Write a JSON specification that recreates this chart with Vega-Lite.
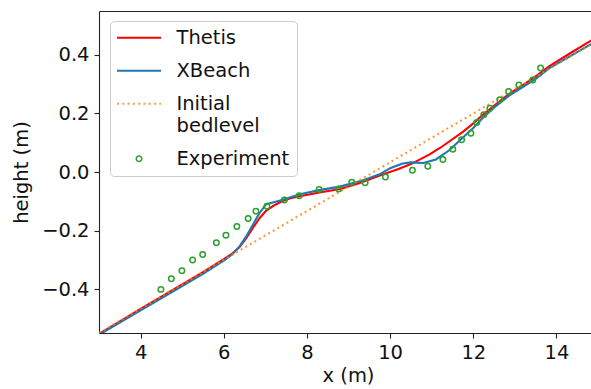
{
  "$schema": "https://vega.github.io/schema/vega-lite/v6.json",
  "width": 492,
  "height": 322,
  "autosize": {"type": "none"},
  "padding": {"left": 99, "top": 11, "right": 0, "bottom": 56},
  "background": "white",
  "config": {
    "view": {"stroke": null},
    "font": "DejaVu Sans",
    "axis": {
      "domainColor": "#222",
      "tickColor": "#222",
      "labelColor": "#111",
      "titleColor": "#111",
      "labelFont": "DejaVu Sans",
      "titleFont": "DejaVu Sans",
      "labelFontSize": 19.5,
      "titleFontSize": 19.5,
      "titleFontWeight": "normal",
      "tickSize": 5,
      "labelPadding": 5,
      "grid": false,
      "domainWidth": 1.1,
      "tickWidth": 1.1,
      "labelFlush": false,
      "labelOverlap": false
    }
  },
  "data": {
    "values": [
      {"series": "Thetis", "x": 3.0, "y": -0.553},
      {"series": "Thetis", "x": 4.0, "y": -0.468},
      {"series": "Thetis", "x": 5.0, "y": -0.384},
      {"series": "Thetis", "x": 5.5, "y": -0.342},
      {"series": "Thetis", "x": 6.0, "y": -0.298},
      {"series": "Thetis", "x": 6.2, "y": -0.279},
      {"series": "Thetis", "x": 6.38, "y": -0.256},
      {"series": "Thetis", "x": 6.54, "y": -0.226},
      {"series": "Thetis", "x": 6.7, "y": -0.191},
      {"series": "Thetis", "x": 6.86, "y": -0.158},
      {"series": "Thetis", "x": 7.02, "y": -0.132},
      {"series": "Thetis", "x": 7.2, "y": -0.115},
      {"series": "Thetis", "x": 7.4, "y": -0.1},
      {"series": "Thetis", "x": 7.6, "y": -0.09},
      {"series": "Thetis", "x": 7.83, "y": -0.083},
      {"series": "Thetis", "x": 8.3, "y": -0.07},
      {"series": "Thetis", "x": 8.8, "y": -0.058},
      {"series": "Thetis", "x": 9.27, "y": -0.038},
      {"series": "Thetis", "x": 9.75, "y": -0.012},
      {"series": "Thetis", "x": 10.2, "y": 0.01},
      {"series": "Thetis", "x": 10.5, "y": 0.027},
      {"series": "Thetis", "x": 10.95, "y": 0.06},
      {"series": "Thetis", "x": 11.2, "y": 0.082},
      {"series": "Thetis", "x": 11.43, "y": 0.105},
      {"series": "Thetis", "x": 11.75, "y": 0.137},
      {"series": "Thetis", "x": 12.0, "y": 0.166},
      {"series": "Thetis", "x": 12.23, "y": 0.195},
      {"series": "Thetis", "x": 12.55, "y": 0.232},
      {"series": "Thetis", "x": 12.87, "y": 0.268},
      {"series": "Thetis", "x": 13.19, "y": 0.297},
      {"series": "Thetis", "x": 13.5, "y": 0.327},
      {"series": "Thetis", "x": 13.83, "y": 0.362},
      {"series": "Thetis", "x": 14.31, "y": 0.404},
      {"series": "Thetis", "x": 14.8, "y": 0.446},
      {"series": "Thetis", "x": 15.0, "y": 0.462},
      {"series": "XBeach", "x": 3.0, "y": -0.556},
      {"series": "XBeach", "x": 4.0, "y": -0.473},
      {"series": "XBeach", "x": 5.0, "y": -0.39},
      {"series": "XBeach", "x": 5.5, "y": -0.348},
      {"series": "XBeach", "x": 6.0, "y": -0.303},
      {"series": "XBeach", "x": 6.2, "y": -0.282},
      {"series": "XBeach", "x": 6.38, "y": -0.254},
      {"series": "XBeach", "x": 6.54, "y": -0.22},
      {"series": "XBeach", "x": 6.7, "y": -0.18},
      {"series": "XBeach", "x": 6.86, "y": -0.14},
      {"series": "XBeach", "x": 7.02, "y": -0.11},
      {"series": "XBeach", "x": 7.18, "y": -0.104},
      {"series": "XBeach", "x": 7.42, "y": -0.095},
      {"series": "XBeach", "x": 7.83, "y": -0.076},
      {"series": "XBeach", "x": 8.3, "y": -0.062},
      {"series": "XBeach", "x": 8.79, "y": -0.05},
      {"series": "XBeach", "x": 9.27, "y": -0.032},
      {"series": "XBeach", "x": 9.75, "y": -0.008},
      {"series": "XBeach", "x": 10.0, "y": 0.013},
      {"series": "XBeach", "x": 10.3, "y": 0.029},
      {"series": "XBeach", "x": 10.5, "y": 0.033},
      {"series": "XBeach", "x": 10.8, "y": 0.031},
      {"series": "XBeach", "x": 11.1, "y": 0.043},
      {"series": "XBeach", "x": 11.43, "y": 0.075},
      {"series": "XBeach", "x": 11.75, "y": 0.118},
      {"series": "XBeach", "x": 12.0, "y": 0.15},
      {"series": "XBeach", "x": 12.23, "y": 0.185},
      {"series": "XBeach", "x": 12.55, "y": 0.226},
      {"series": "XBeach", "x": 12.87, "y": 0.262},
      {"series": "XBeach", "x": 13.19, "y": 0.29},
      {"series": "XBeach", "x": 13.5, "y": 0.318},
      {"series": "XBeach", "x": 13.83, "y": 0.355},
      {"series": "XBeach", "x": 14.31, "y": 0.394},
      {"series": "XBeach", "x": 14.8, "y": 0.434},
      {"series": "XBeach", "x": 15.0, "y": 0.449},
      {"series": "Initial bedlevel", "x": 3.0, "y": -0.55},
      {"series": "Initial bedlevel", "x": 15.0, "y": 0.45},
      {"series": "Experiment", "x": 4.488, "y": -0.401},
      {"series": "Experiment", "x": 4.74, "y": -0.365},
      {"series": "Experiment", "x": 4.993, "y": -0.337},
      {"series": "Experiment", "x": 5.252, "y": -0.301},
      {"series": "Experiment", "x": 5.493, "y": -0.282},
      {"series": "Experiment", "x": 5.822, "y": -0.242},
      {"series": "Experiment", "x": 6.053, "y": -0.216},
      {"series": "Experiment", "x": 6.315, "y": -0.186},
      {"series": "Experiment", "x": 6.587, "y": -0.159},
      {"series": "Experiment", "x": 6.774, "y": -0.134},
      {"series": "Experiment", "x": 7.038, "y": -0.117},
      {"series": "Experiment", "x": 7.457, "y": -0.096},
      {"series": "Experiment", "x": 7.813, "y": -0.081},
      {"series": "Experiment", "x": 8.293, "y": -0.06},
      {"series": "Experiment", "x": 8.762, "y": -0.058},
      {"series": "Experiment", "x": 9.079, "y": -0.035},
      {"series": "Experiment", "x": 9.399, "y": -0.037},
      {"series": "Experiment", "x": 9.887, "y": -0.017},
      {"series": "Experiment", "x": 10.536, "y": 0.006},
      {"series": "Experiment", "x": 10.906, "y": 0.02},
      {"series": "Experiment", "x": 11.269, "y": 0.043},
      {"series": "Experiment", "x": 11.507, "y": 0.078},
      {"series": "Experiment", "x": 11.719, "y": 0.11},
      {"series": "Experiment", "x": 11.942, "y": 0.132},
      {"series": "Experiment", "x": 12.084, "y": 0.169},
      {"series": "Experiment", "x": 12.252, "y": 0.196},
      {"series": "Experiment", "x": 12.399, "y": 0.218},
      {"series": "Experiment", "x": 12.637, "y": 0.247},
      {"series": "Experiment", "x": 12.849, "y": 0.275},
      {"series": "Experiment", "x": 13.096, "y": 0.297},
      {"series": "Experiment", "x": 13.43, "y": 0.314},
      {"series": "Experiment", "x": 13.618, "y": 0.355}
    ]
  },
  "layer": [
    {
      "transform": [{"filter": "datum.series === 'Thetis'"}],
      "mark": {"type": "line", "clip": true, "strokeWidth": 2.1},
      "encoding": {
        "x": {
          "field": "x", "type": "quantitative",
          "scale": {"domain": [3, 14.83], "nice": false, "zero": false},
          "axis": {"orient": "bottom", "values": [4, 6, 8, 10, 12, 14], "format": "d", "title": "x (m)", "titlePadding": 5, "titleX": 249}
        },
        "y": {
          "field": "y", "type": "quantitative",
          "scale": {"domain": [-0.55, 0.55], "nice": false, "zero": false},
          "axis": {"values": [-0.4, -0.2, 0, 0.2, 0.4], "format": ".1f", "title": "height (m)", "titlePadding": 10}
        },
        "color": {
          "field": "series", "type": "nominal",
          "scale": {
            "domain": ["Thetis", "XBeach", "Initial bedlevel", "Experiment"],
            "range": ["#ff0000", "#1f77b4", "#ff7f0e", "#2ca02c"]
          },
          "legend": {
            "title": null,
            "orient": "none",
            "legendX": 11,
            "legendY": 10,
            "direction": "vertical",
            "symbolType": "stroke",
            "symbolSize": 1936,
            "symbolStrokeWidth": 2.1,
            "labelFont": "DejaVu Sans",
            "labelFontSize": 19.5,
            "labelColor": "#111",
            "labelLimit": 0,
            "labelOffset": 40,
            "rowPadding": 12,
            "padding": 7,
            "fillColor": "rgba(255,255,255,0.8)",
            "strokeColor": "#cccccc",
            "cornerRadius": 4,
            "labelExpr": "datum.label === 'Initial bedlevel' ? ['Initial', 'bedlevel'] : datum.label",
            "encode": {
              "symbols": {
                "update": {
                  "x": {"value": 22},
                  "shape": {"signal": "datum.value === 'Experiment' ? 'circle' : 'stroke'"},
                  "size": {"signal": "datum.value === 'Experiment' ? 30 : 1936"},
                  "strokeDash": {"signal": "datum.value === 'Initial bedlevel' ? [2, 3.3] : [1, 0]"},
                  "strokeWidth": {"signal": "datum.value === 'Experiment' ? 1.5 : 2.1"},
                  "fill": {"value": "transparent"},
                  "opacity": {"signal": "datum.value === 'Initial bedlevel' ? 0.8 : 1"}
                }
              },
              "labels": {"update": {"lineHeight": {"value": 22}}}
            }
          }
        }
      }
    },
    {
      "transform": [{"filter": "datum.series === 'XBeach'"}],
      "mark": {"type": "line", "clip": true, "strokeWidth": 2.1},
      "encoding": {
        "x": {"field": "x", "type": "quantitative", "axis": null},
        "y": {"field": "y", "type": "quantitative"},
        "color": {"field": "series", "type": "nominal"}
      }
    },
    {
      "transform": [{"filter": "datum.series === 'Initial bedlevel'"}],
      "mark": {"type": "line", "clip": true, "strokeWidth": 2.1, "strokeDash": [2, 3.3], "opacity": 0.8},
      "encoding": {
        "x": {"field": "x", "type": "quantitative", "axis": null},
        "y": {"field": "y", "type": "quantitative"},
        "color": {"field": "series", "type": "nominal"}
      }
    },
    {
      "transform": [{"filter": "datum.series === 'Experiment'"}],
      "mark": {"type": "point", "clip": true, "filled": false, "size": 30, "strokeWidth": 1.5, "opacity": 1},
      "encoding": {
        "x": {"field": "x", "type": "quantitative", "axis": {"orient": "top", "labels": false, "ticks": false, "title": null, "domain": true}},
        "y": {"field": "y", "type": "quantitative"},
        "color": {"field": "series", "type": "nominal"}
      }
    }
  ],
  "resolve": {"axis": {"x": "independent"}}
}
